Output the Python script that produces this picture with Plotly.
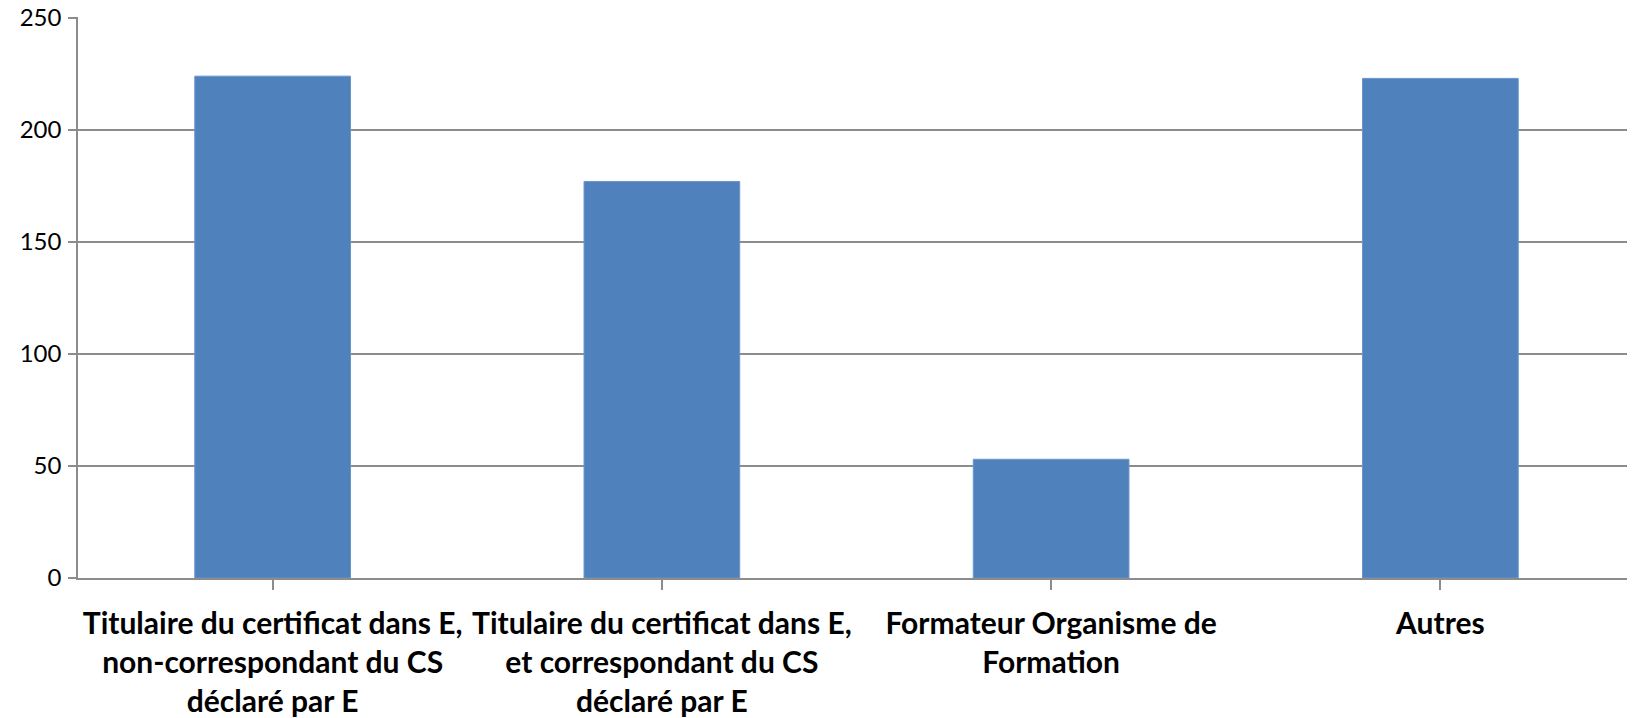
import plotly.graph_objects as go

categories = [
    "Titulaire du certificat dans E,<br>non-correspondant du CS<br>déclaré par E",
    "Titulaire du certificat dans E,<br>et correspondant du CS<br>déclaré par E",
    "Formateur Organisme de<br>Formation",
    "Autres",
]
values = [224, 177, 53, 223]
y_ticks = [0, 50, 100, 150, 200, 250]

grey = "#8C8C8C"

fig = go.Figure(go.Bar(
    x=list(range(len(categories))),
    y=values,
    width=0.4,
    marker=dict(color="#4F81BD", line=dict(color="#6A95CB", width=1)),
))

# page body has an 8px default margin, so the figure is sized to fit inside it
fig.update_layout(
    width=1627, height=710,
    margin=dict(l=70, r=0, t=9, b=137),
    paper_bgcolor="white", plot_bgcolor="white",
    showlegend=False,
    font=dict(family="Lato", color="black"),
)
fig.update_xaxes(
    range=[-0.5, len(categories) - 0.5],
    tickmode="array",
    tickvals=list(range(len(categories))),
    ticktext=[f"<b>{c}</b>" for c in categories],
    tickson="boundaries",
    ticks="outside", ticklen=10, tickcolor=grey, tickwidth=1.5,
    showline=True, linecolor=grey, linewidth=1.5,
    showgrid=False,
    tickfont=dict(family="Lato", size=30, color="black"),
    tickangle=0,
    ticklabelstandoff=8,
)
fig.update_yaxes(
    range=[0, 250.4],
    tickmode="array", tickvals=y_ticks,
    ticks="outside", ticklen=8, tickcolor=grey, tickwidth=1.5,
    showline=True, linecolor=grey, linewidth=1.5,
    showgrid=True, gridcolor=grey, gridwidth=1.5,
    zeroline=False,
    tickfont=dict(family="Lato", size=24, color="black"),
    ticklabelstandoff=2,
    ticklabeloverflow="allow",
    automargin=False,
)

fig.write_html("out.html")
